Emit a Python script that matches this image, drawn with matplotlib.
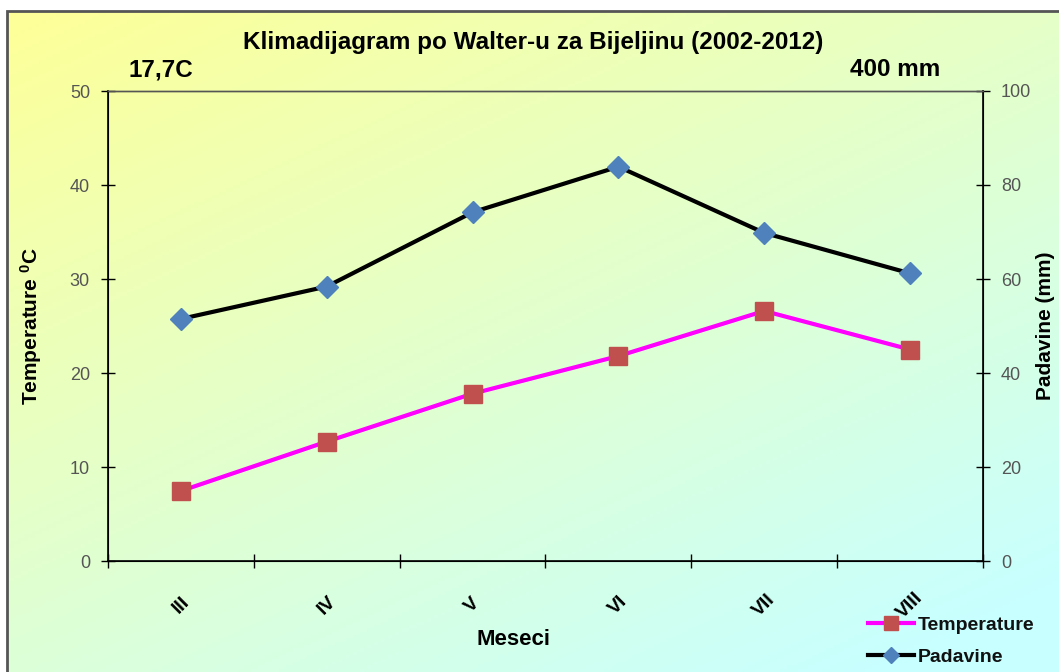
import numpy as np
import matplotlib
matplotlib.use("Agg")
import matplotlib.pyplot as plt
from matplotlib.patches import Rectangle

months = ["III", "IV", "V", "VI", "VII", "VIII"]
temperature = [7.45, 12.7, 17.8, 21.8, 26.6, 22.5]
precipitation = [51.5, 58.4, 74.2, 83.9, 69.8, 61.2]
temp_ticks = [0, 10, 20, 30, 40, 50]
prec_ticks = [0, 20, 40, 60, 80, 100]

plt.rcParams['font.family'] = ['Liberation Sans', 'DejaVu Sans']

W, H = 1059, 672
fig = plt.figure(figsize=(W / 100, H / 100), dpi=100)

# background gradient
bg = fig.add_axes([0, 0, 1, 1], zorder=-10)
bg.set_axis_off()
ny, nx = 200, 300
yy, xx = np.mgrid[0:1:ny * 1j, 0:1:nx * 1j]
t = np.clip((xx * 0.55 + yy * 0.75) / 1.2, 0, 1)
c0 = np.array([255, 255, 150]) / 255.0
c1 = np.array([200, 255, 255]) / 255.0
img = c0[None, None, :] * (1 - t[..., None]) + c1[None, None, :] * t[..., None]
bg.imshow(img, extent=[0, 1, 0, 1], aspect='auto', origin='upper')
bg.add_patch(Rectangle((0, 1 - 11 / H), 1, 11 / H, color='white', zorder=2))
bg.add_patch(Rectangle((0, 0), 7 / W, 1, color='white', zorder=2))
bg.add_patch(Rectangle((7 / W, -0.01), 1.0, 1.01 - 11 / H, fill=False, edgecolor='#555555', lw=2, zorder=3))
bg.set_xlim(0, 1)
bg.set_ylim(0, 1)

left, right, top, bottom = 108, 983, 91, 561
ax = fig.add_axes([left / W, 1 - bottom / H, (right - left) / W, (bottom - top) / H])
ax.patch.set_alpha(0)
ax2 = ax.twinx()

x = np.arange(len(months))
ax.plot(x, temperature, color='#FF00FF', lw=3, marker='s', markersize=13,
        markerfacecolor='#C0504D', markeredgecolor='#C0504D', label='Temperature', zorder=3)
ax2.plot(x, precipitation, color='black', lw=3, marker='D', markersize=11,
         markerfacecolor='#4F81BD', markeredgecolor='#4F81BD', label='Padavine', zorder=3)

ax.set_xlim(-0.5, len(months) - 0.5)
ax.set_ylim(0, 50)
ax2.set_ylim(0, 100)
ax.set_yticks(temp_ticks)
ax2.set_yticks(prec_ticks)
ax.set_xticks(np.arange(-0.5, len(months), 1.0))
ax.set_xticklabels([])
ax.set_xticks(x, minor=True)
ax.set_xticklabels(months, minor=True, rotation=45, fontweight='bold', fontsize=14,
                   ha='center', va='center')
ax.tick_params(axis='x', which='minor', length=0, pad=32)
ax.tick_params(axis='x', which='major', direction='inout', length=10, width=1)
ax.tick_params(axis='y', direction='inout', length=10, width=1, labelsize=13,
               labelcolor='#555555', pad=8)
ax2.tick_params(axis='y', direction='inout', length=10, width=1, labelsize=13,
                labelcolor='#555555', pad=8)

for a in (ax, ax2):
    a.spines['top'].set_color('#555555')
    a.spines['top'].set_linewidth(1)
ax.spines['left'].set_linewidth(1.2)
ax.spines['bottom'].set_linewidth(1.2)
ax2.spines['right'].set_linewidth(1.2)

ax.set_ylabel(r"Temperature $\mathregular{^0}$C", fontsize=15, fontweight='bold')
ax.yaxis.set_label_coords(-0.073, 0.5)
ax2.set_ylabel("Padavine (mm)", fontsize=15, fontweight='bold', rotation=90)
ax2.yaxis.set_label_coords(1.061, 0.5)
ax.set_xlabel("Meseci", fontsize=16, fontweight='bold')
ax.xaxis.set_label_coords(0.4635, -0.145)

fig.text(533 / W, 1 - 42 / H, "Klimadijagram po Walter-u za Bijeljinu (2002-2012)",
         ha='center', va='center', fontsize=17.5, fontweight='bold')
fig.text(128 / W, 1 - 70 / H, "17,7C", ha='left', va='center', fontsize=17.5, fontweight='bold')
fig.text(940 / W, 1 - 70 / H, "400 mm", ha='right', va='center', fontsize=17.5, fontweight='bold')

h1, l1 = ax.get_legend_handles_labels()
h2, l2 = ax2.get_legend_handles_labels()
leg = fig.legend(h1 + h2, l1 + l2, loc='center left', bbox_to_anchor=(860 / W, 1 - 641 / H),
                 frameon=False, fontsize=14, handlelength=2.4, handletextpad=0.15,
                 labelspacing=0.75, markerscale=0.75, borderaxespad=0)
for txt in leg.get_texts():
    txt.set_fontweight('bold')
    txt.set_color('#111111')

fig.savefig("out.png", dpi=100)
